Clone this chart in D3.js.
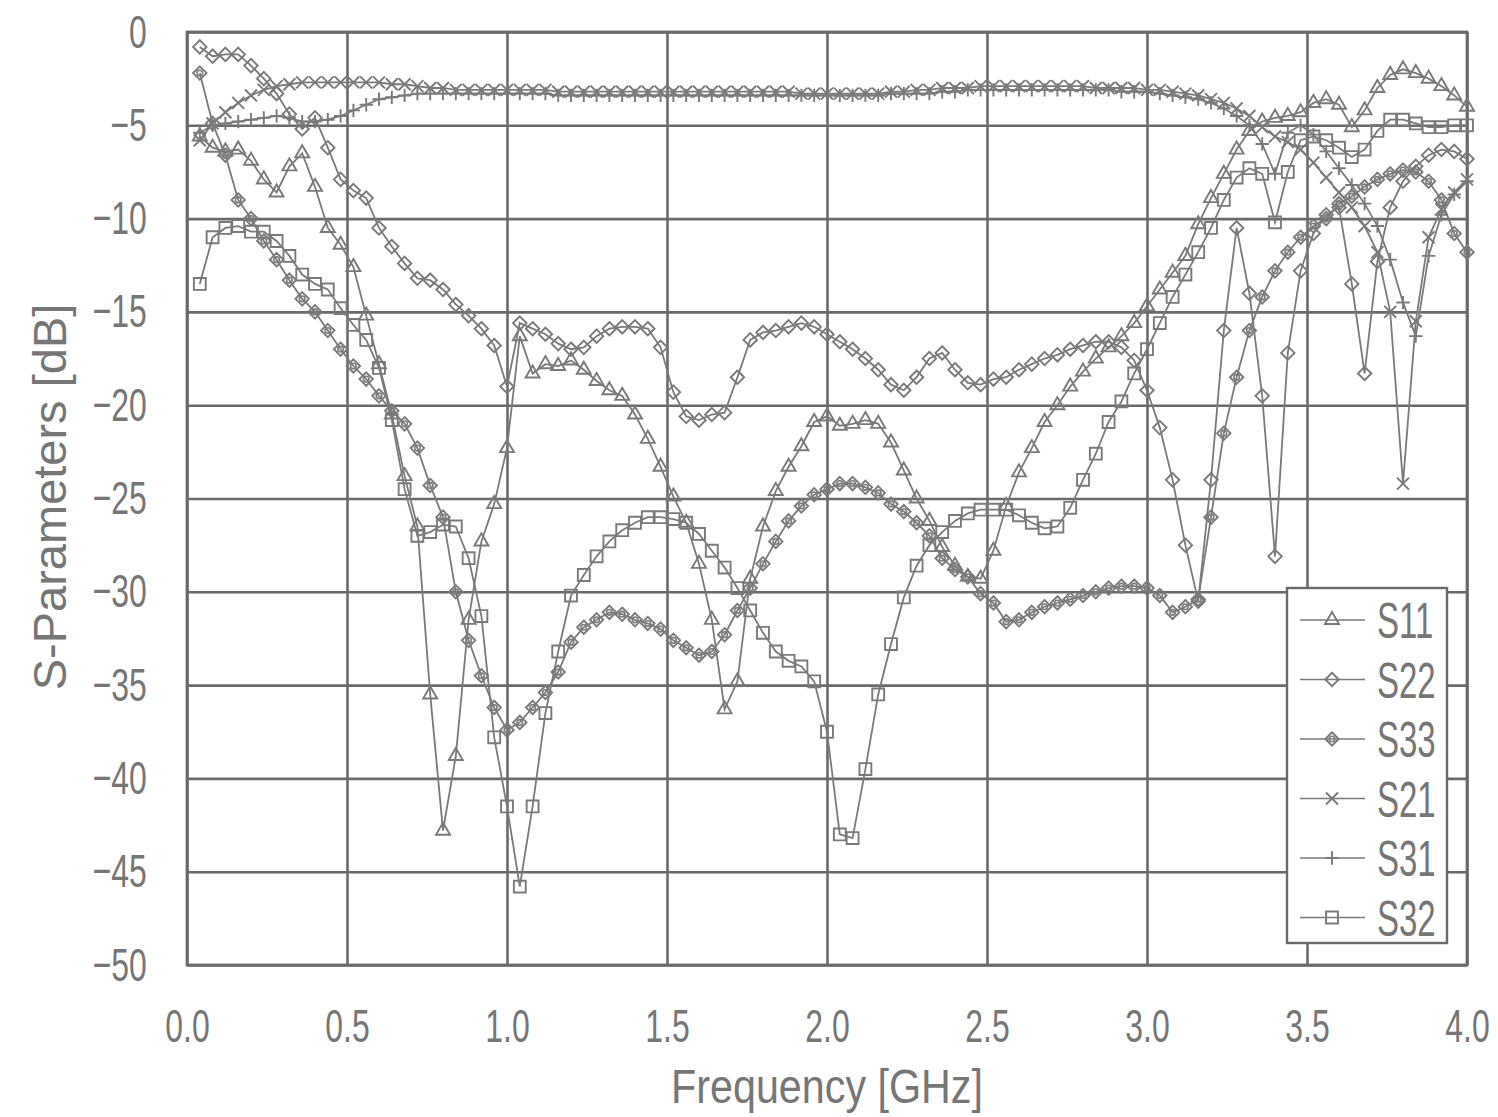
<!DOCTYPE html>
<html>
<head>
<meta charset="utf-8">
<script src="https://cdn.jsdelivr.net/npm/d3@7"></script>
<style>
  body { margin: 0; background: #fff; }
  text { font-family: "Liberation Sans", Arial, sans-serif; fill: #767676; }
</style>
</head>
<body>
<div class="chart"></div>
<script>
// frequency points (GHz)
var freq = [
  0.04, 0.08, 0.12, 0.16, 0.20, 0.24, 0.28, 0.32, 0.36, 0.40,
  0.44, 0.48, 0.52, 0.56, 0.60, 0.64, 0.68, 0.72, 0.76, 0.80,
  0.84, 0.88, 0.92, 0.96, 1.00, 1.04, 1.08, 1.12, 1.16, 1.20,
  1.24, 1.28, 1.32, 1.36, 1.40, 1.44, 1.48, 1.52, 1.56, 1.60,
  1.64, 1.68, 1.72, 1.76, 1.80, 1.84, 1.88, 1.92, 1.96, 2.00,
  2.04, 2.08, 2.12, 2.16, 2.20, 2.24, 2.28, 2.32, 2.36, 2.40,
  2.44, 2.48, 2.52, 2.56, 2.60, 2.64, 2.68, 2.72, 2.76, 2.80,
  2.84, 2.88, 2.92, 2.96, 3.00, 3.04, 3.08, 3.12, 3.16, 3.20,
  3.24, 3.28, 3.32, 3.36, 3.40, 3.44, 3.48, 3.52, 3.56, 3.60,
  3.64, 3.68, 3.72, 3.76, 3.80, 3.84, 3.88, 3.92, 3.96, 4.00
];

// S-parameters in dB
var s11 = [
  -5.6, -6.2, -6.4, -6.3, -6.9, -7.9, -8.6, -7.2, -6.5, -8.3,
  -10.5, -11.4, -12.6, -15.2, -17.8, -20.5, -23.8, -26.5, -35.5, -42.8,
  -38.8, -31.5, -27.3, -25.3, -22.3, -16.3, -18.3, -17.8, -17.9, -17.6,
  -18.1, -18.7, -19.2, -19.5, -20.5, -21.8, -23.3, -24.9, -26.3, -28.5,
  -31.5, -36.3, -34.8, -29.3, -26.5, -24.6, -23.3, -22.2, -20.9, -20.6,
  -21.1, -21.0, -20.8, -21.0, -22.0, -23.5, -25.0, -26.2, -27.6, -28.6,
  -29.2, -29.3, -27.8, -25.4, -23.6, -22.3, -20.9, -20.0, -19.0, -18.2,
  -17.5, -16.9, -16.3, -15.6, -14.7, -13.8, -12.9, -12.0, -10.3, -8.9,
  -7.6, -6.3, -5.3, -4.8, -4.6, -4.5, -4.3, -3.8, -3.6, -3.9,
  -5.1, -4.2, -3.0, -2.3, -2.0, -2.2, -2.5, -2.9, -3.4, -4.0
];
var s22 = [
  -0.8, -1.3, -1.2, -1.2, -1.8, -2.5, -3.3, -4.4, -5.2, -4.6,
  -6.2, -7.9, -8.5, -8.9, -10.5, -11.5, -12.4, -13.2, -13.3, -13.8,
  -14.6, -15.2, -15.9, -16.8, -19.0, -15.6, -15.9, -16.2, -16.7, -17.0,
  -16.9, -16.3, -15.9, -15.8, -15.8, -15.9, -16.9, -19.3, -20.6, -20.8,
  -20.5, -20.4, -18.5, -16.5, -16.1, -16.0, -15.8, -15.6, -15.8, -16.2,
  -16.6, -17.0, -17.5, -18.1, -18.9, -19.2, -18.5, -17.5, -17.2, -18.1,
  -18.8, -18.9, -18.6, -18.5, -18.1, -17.8, -17.5, -17.3, -17.0, -16.8,
  -16.6, -16.6, -16.9, -17.6, -19.2, -21.2, -24.0, -27.5, -30.5, -24.0,
  -16.0, -10.5, -14.0, -19.5, -28.1, -17.2, -12.8, -10.8, -9.8, -9.4,
  -13.5, -18.3, -12.3, -9.4, -8.0, -7.2, -6.6, -6.3, -6.4, -6.8
];
var s33 = [
  -2.2, -4.9, -6.6, -9.0, -10.0, -11.2, -12.2, -13.3, -14.3, -15.0,
  -16.0, -17.0, -17.9, -18.6, -19.5, -20.3, -21.0, -22.3, -24.3, -26.0,
  -30.0, -32.6, -34.5, -36.2, -37.4, -37.0, -36.2, -35.4, -34.3, -32.7,
  -31.9, -31.5, -31.1, -31.2, -31.5, -31.7, -32.0, -32.6, -33.0, -33.4,
  -33.2, -32.3, -31.0, -29.8, -28.5, -27.3, -26.2, -25.4, -24.8, -24.5,
  -24.2, -24.2, -24.4, -24.7, -25.3, -25.7, -26.3, -27.0, -28.2, -28.8,
  -29.2, -30.1, -30.6, -31.6, -31.5, -31.1, -30.8, -30.6, -30.4, -30.2,
  -30.0, -29.8, -29.7, -29.7, -29.8, -30.2, -31.1, -30.8, -30.4, -26.0,
  -21.5, -18.5, -16.0, -14.2, -12.8, -11.8, -11.0, -10.4, -10.0, -9.2,
  -8.8, -8.3, -7.9, -7.6, -7.4, -7.5, -8.0, -9.0, -10.8, -11.8
];
var s21 = [
  -5.8, -4.9, -4.3, -3.8, -3.4, -3.1, -2.9, -2.8, -2.7, -2.7,
  -2.7, -2.7, -2.7, -2.7, -2.7, -2.8, -2.8, -2.9, -3.0, -3.0,
  -3.1, -3.1, -3.1, -3.1, -3.1, -3.1, -3.1, -3.1, -3.2, -3.2,
  -3.2, -3.2, -3.2, -3.2, -3.2, -3.2, -3.2, -3.2, -3.2, -3.2,
  -3.2, -3.2, -3.2, -3.2, -3.2, -3.2, -3.2, -3.3, -3.3, -3.3,
  -3.3, -3.3, -3.3, -3.3, -3.2, -3.2, -3.1, -3.1, -3.0, -3.0,
  -3.0, -2.9, -2.9, -2.9, -2.9, -2.9, -2.9, -2.9, -2.9, -2.9,
  -3.0, -3.0, -3.0, -3.0, -3.1, -3.1, -3.2, -3.3, -3.4, -3.6,
  -3.8, -4.1, -4.5, -5.1, -5.6, -5.9, -6.3, -7.0, -7.8, -8.6,
  -9.4, -10.4, -11.8, -15.0, -24.2, -15.5, -11.0, -9.5, -8.6, -7.9
];
var s31 = [
  -5.4, -5.0, -4.9, -4.8, -4.7, -4.6, -4.5, -4.6, -4.8, -4.8,
  -4.7, -4.5, -4.2, -3.9, -3.6, -3.5, -3.4, -3.3, -3.3, -3.3,
  -3.3, -3.3, -3.3, -3.3, -3.3, -3.3, -3.3, -3.3, -3.4, -3.4,
  -3.4, -3.4, -3.4, -3.4, -3.4, -3.4, -3.4, -3.4, -3.4, -3.4,
  -3.4, -3.4, -3.4, -3.4, -3.4, -3.4, -3.4, -3.4, -3.4, -3.4,
  -3.4, -3.4, -3.4, -3.4, -3.3, -3.3, -3.3, -3.3, -3.2, -3.2,
  -3.1, -3.1, -3.1, -3.1, -3.1, -3.1, -3.1, -3.1, -3.1, -3.1,
  -3.1, -3.1, -3.2, -3.2, -3.2, -3.3, -3.4, -3.5, -3.6, -3.8,
  -4.1, -4.5, -5.0, -6.0, -7.6, -5.4, -5.0, -5.5, -6.4, -7.3,
  -8.2, -9.2, -10.4, -12.2, -14.5, -16.3, -12.0, -9.8, -8.7, -8.0
];
var s32 = [
  -13.5, -11.0, -10.5, -10.4, -10.7, -10.7, -11.2, -12.0, -13.0, -13.5,
  -13.8, -14.8, -15.7, -16.5, -18.0, -20.8, -24.5, -27.0, -26.8, -26.4,
  -26.5, -28.2, -31.3, -37.8, -41.5, -45.8, -41.5, -36.5, -33.2, -30.2,
  -29.1, -28.1, -27.3, -26.7, -26.3, -26.0, -26.0, -26.1, -26.3, -26.9,
  -27.8, -28.7, -29.8, -31.0, -32.2, -33.2, -33.7, -34.0, -34.8, -37.5,
  -43.0, -43.2, -39.5, -35.5, -32.8, -30.3, -28.6, -27.5, -26.8, -26.2,
  -25.8, -25.6, -25.6, -25.6, -25.9, -26.3, -26.6, -26.5, -25.5, -24.0,
  -22.6, -20.9, -19.8, -18.3, -17.0, -15.6, -14.2, -13.0, -11.8, -10.5,
  -9.0, -7.8, -7.3, -7.6, -10.2, -7.5, -5.8, -5.6, -5.8, -6.2,
  -6.7, -6.3, -5.3, -4.7, -4.7, -4.9, -5.1, -5.1, -5.0, -5.0
];

var seriesNames = ["S11", "S22", "S33", "S21", "S31", "S32"];
var seriesValues = [s11, s22, s33, s21, s31, s32];
var xTicks = [0, 0.5, 1, 1.5, 2, 2.5, 3, 3.5, 4];
var yTicks = [0, -5, -10, -15, -20, -25, -30, -35, -40, -45, -50];

var svgWidth = 1498;
var svgHeight = 1117;
var margin = { top: 32, right: 31, bottom: 152, left: 187 };
var width = svgWidth - margin.left - margin.right;
var height = svgHeight - margin.top - margin.bottom;

var ink = "#6a6a6a";
var lineInk = "#7a7a7a";

var svg = d3.select(".chart")
  .append("svg")
  .attr("width", svgWidth)
  .attr("height", svgHeight);

var chartGroup = svg.append("g")
  .attr("transform", `translate(${margin.left}, ${margin.top})`);

var xScale = d3.scaleLinear().domain([0, 4]).range([0, width]);
var yScale = d3.scaleLinear().domain([-50, 0]).range([height, 0]);

// x grid + labels
var xAxis = chartGroup.append("g")
  .attr("transform", `translate(0, ${height})`)
  .call(d3.axisBottom(xScale)
    .tickValues(xTicks)
    .tickSize(-height)
    .tickPadding(44)
    .tickFormat(d3.format(".1f")));

// y grid + labels
var yAxis = chartGroup.append("g")
  .call(d3.axisLeft(yScale)
    .tickValues(yTicks)
    .tickSize(-width)
    .tickPadding(59)
    .tickFormat(d3.format("d")));

[xAxis, yAxis].forEach(function(ax) {
  ax.select(".domain").remove();
  ax.selectAll("line").attr("stroke", ink).attr("stroke-width", 2.6);
  ax.selectAll("text")
    .attr("fill", "#7a7a7a")
    .style("font-size", "47px")
    .attr("transform", "scale(0.68,1)");
});

chartGroup.append("rect")
  .attr("width", width)
  .attr("height", height)
  .attr("fill", "none")
  .attr("stroke", ink)
  .attr("stroke-width", 2.8);

// marker shapes
var symbols = {
  S11: d3.symbol().type(d3.symbolTriangle2).size(140),
  S22: d3.symbol().type(d3.symbolDiamond2).size(115),
  S33: d3.symbol().type(d3.symbolDiamond2).size(115),
  S21: d3.symbol().type(d3.symbolTimes).size(95),
  S31: d3.symbol().type(d3.symbolPlus).size(60),
  S32: d3.symbol().type(d3.symbolSquare2).size(180)
};

function drawMarker(g, name) {
  g.append("path")
    .attr("d", symbols[name]())
    .attr("fill", "none")
    .attr("stroke", lineInk)
    .attr("stroke-width", 1.9);
  if (name === "S33") {
    g.append("circle")
      .attr("r", 2.8)
      .attr("fill", "none")
      .attr("stroke", lineInk)
      .attr("stroke-width", 1.6);
  }
}

var line = d3.line()
  .x(d => xScale(d[0]))
  .y(d => yScale(d[1]));

seriesNames.forEach(function(name, i) {
  var pts = freq.map((f, j) => [f, seriesValues[i][j]]);
  var g = chartGroup.append("g").attr("class", "series " + name);

  g.append("path")
    .datum(pts)
    .attr("d", line)
    .attr("fill", "none")
    .attr("stroke", lineInk)
    .attr("stroke-width", 1.8);

  g.selectAll("g.mk")
    .data(pts)
    .enter()
    .append("g")
    .attr("class", "mk")
    .attr("transform", d => `translate(${xScale(d[0])}, ${yScale(d[1])})`)
    .each(function() { drawMarker(d3.select(this), name); });
});

// legend
var legend = svg.append("g")
  .attr("transform", "translate(1287, 588)");

legend.append("rect")
  .attr("width", 160)
  .attr("height", 355)
  .attr("fill", "#fff")
  .attr("stroke", ink)
  .attr("stroke-width", 2.4);

seriesNames.forEach(function(name, i) {
  var row = legend.append("g")
    .attr("transform", `translate(0, ${32 + i * 59.5})`);
  row.append("line")
    .attr("x1", 13).attr("x2", 78)
    .attr("stroke", lineInk)
    .attr("stroke-width", 1.6);
  drawMarker(row.append("g").attr("transform", "translate(45, 0)"), name);
  row.append("text")
    .attr("transform", "translate(90, 0) scale(0.66,1)")
    .attr("dy", "0.36em")
    .style("font-size", "50px")
    .text(name);
});

// axis titles
svg.append("text")
  .attr("transform", `translate(${margin.left + width / 2}, 1103) scale(0.86,1)`)
  .attr("text-anchor", "middle")
  .style("font-size", "48px")
  .text("Frequency [GHz]");

svg.append("text")
  .attr("transform", "translate(66, 497) rotate(-90)")
  .attr("text-anchor", "middle")
  .style("font-size", "47px")
  .text("S-Parameters [dB]");
</script>
</body>
</html>
